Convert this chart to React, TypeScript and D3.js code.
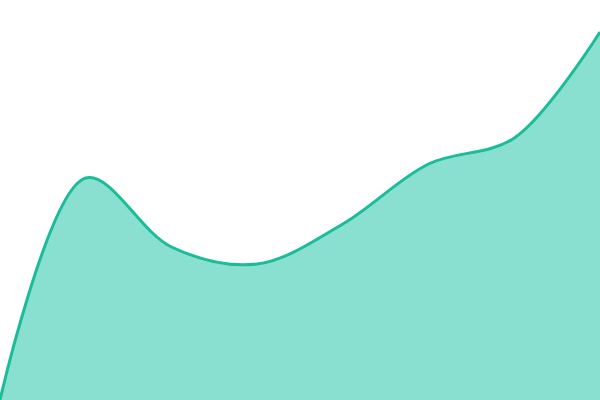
import { useRef, useEffect } from 'react';
import * as d3 from 'd3';

const W = 600;
const H = 400;

// sampled values, evenly spaced along x
const values = [0, 222, 153, 136, 176, 236, 262, 368];

const App = () => {
  const svgRef = useRef<SVGSVGElement | null>(null);

  useEffect(() => {
    const svg = d3.select(svgRef.current);
    svg.selectAll('*').remove();

    const x = d3
      .scaleLinear()
      .domain([0, values.length - 1])
      .range([0, W]);
    const y = d3.scaleLinear().domain([0, 400]).range([H, 0]);

    const curve = d3.curveCatmullRom.alpha(0.5);

    const area = d3
      .area<number>()
      .x((_d, i) => x(i))
      .y0(H)
      .y1(d => y(d))
      .curve(curve);

    const line = d3
      .line<number>()
      .x((_d, i) => x(i))
      .y(d => y(d))
      .curve(curve);

    svg
      .append('path')
      .datum(values)
      .attr('d', area)
      .attr('fill', '#15c2a1')
      .attr('fill-opacity', 0.5);

    svg
      .append('path')
      .datum(values)
      .attr('d', line)
      .attr('fill', 'none')
      .attr('stroke', '#1bbc98')
      .attr('stroke-width', 3);
  }, []);

  return (
    <svg
      ref={svgRef}
      width={W}
      height={H}
      style={{ position: 'absolute', top: 0, left: 0, display: 'block', background: '#fff' }}
    />
  );
};

export default App;
